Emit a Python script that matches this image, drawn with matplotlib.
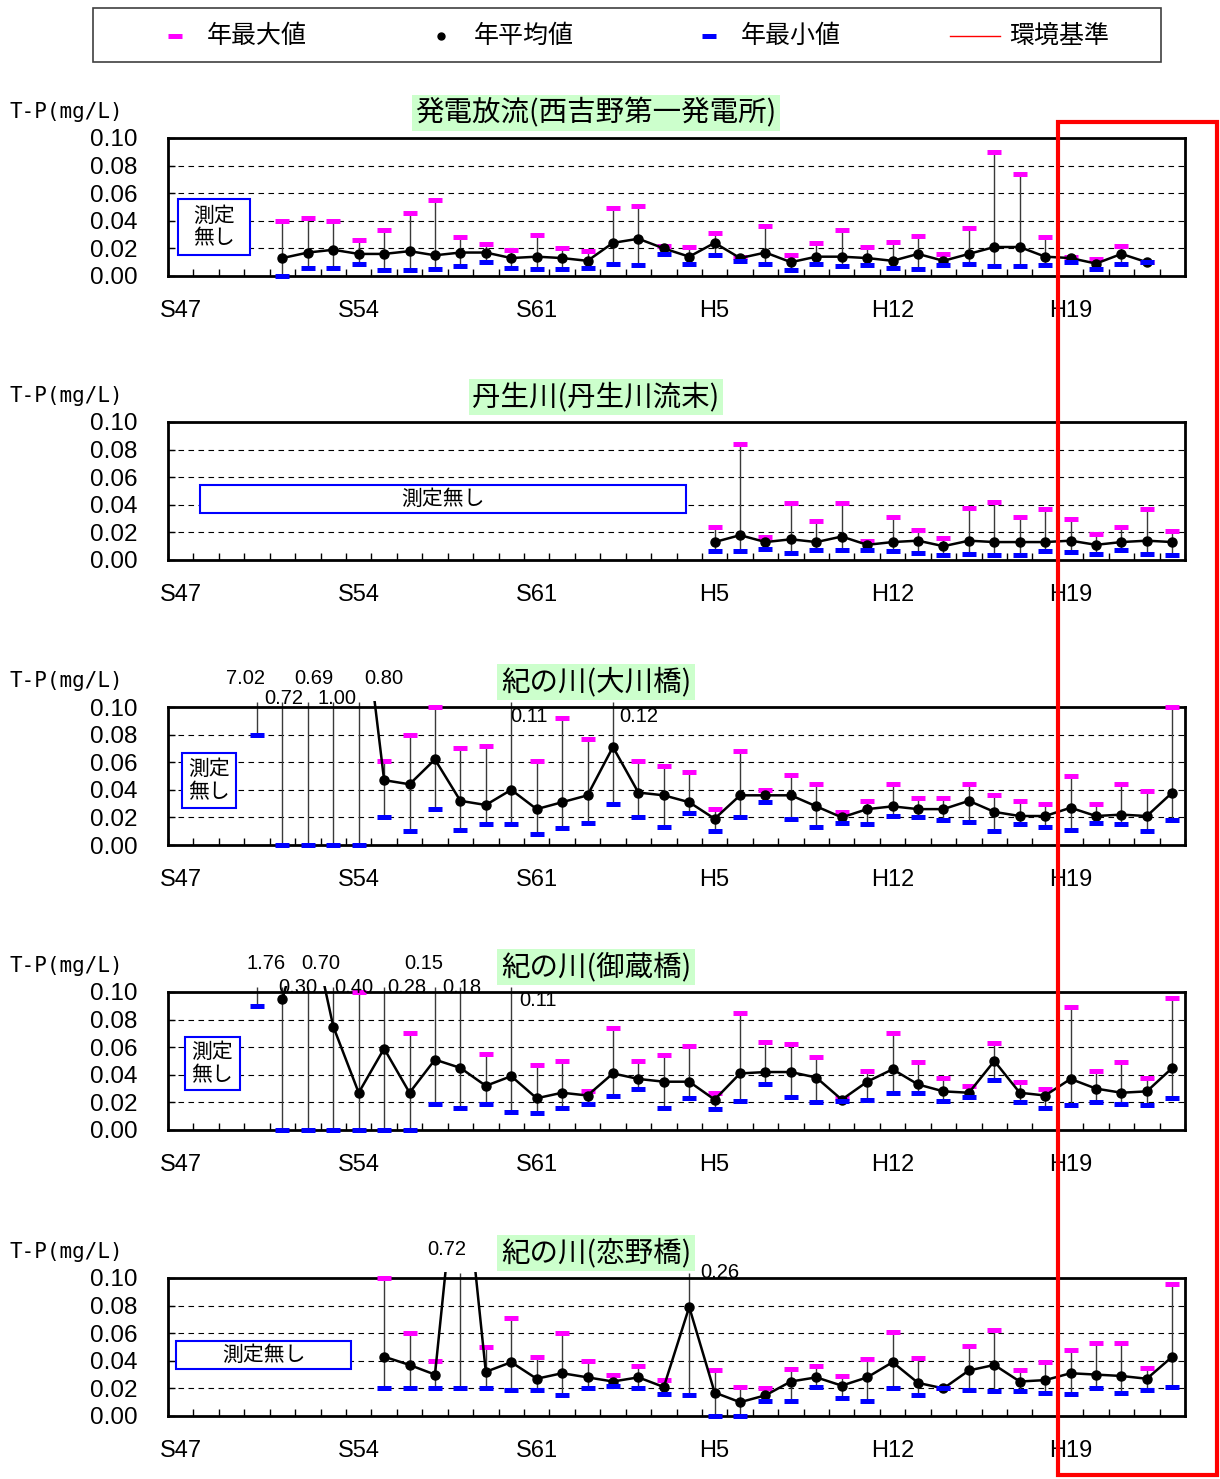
import numpy as np
import matplotlib
matplotlib.use('Agg')
import matplotlib.pyplot as plt
from matplotlib.patches import Rectangle
from matplotlib.lines import Line2D
from matplotlib.transforms import Bbox, TransformedBbox

plt.rcParams['font.family'] = ['Liberation Sans', 'Noto Sans CJK JP']

# ---------------- data ----------------
first_year = 1972
n_years = 40  # 1972 .. 2011
tick_years = [1972, 1979, 1986, 1993, 2000, 2007]
tick_labels = ['S47', 'S54', 'S61', 'H5', 'H12', 'H19']

legend_labels = ['年最大値', '年平均値', '年最小値', '環境基準']
no_data_text = '測定無し'

titles = ['発電放流(西吉野第一発電所)', '丹生川(丹生川流末)',
          '紀の川(大川橋)', '紀の川(御蔵橋)', '紀の川(恋野橋)']

# Panel 1: 発電放流 (1976-2010)
p1_start = 1976
p1_mean = [0.013, 0.017, 0.019, 0.016, 0.016, 0.018, 0.015, 0.017, 0.017, 0.013,
           0.014, 0.013, 0.011, 0.024, 0.027, 0.020, 0.014, 0.024, 0.013, 0.017,
           0.010, 0.014, 0.014, 0.013, 0.011, 0.016, 0.011, 0.016, 0.021, 0.021,
           0.014, 0.013, 0.009, 0.016, 0.010]
p1_max = [0.040, 0.042, 0.040, 0.026, 0.033, 0.046, 0.055, 0.028, 0.023, 0.019,
          0.030, 0.020, 0.018, 0.049, 0.051, 0.022, 0.021, 0.031, 0.014, 0.036,
          0.015, 0.024, 0.033, 0.021, 0.025, 0.029, 0.016, 0.035, 0.090, 0.074,
          0.028, 0.014, 0.012, 0.022, 0.010]
p1_min = [0.000, 0.006, 0.006, 0.009, 0.004, 0.004, 0.005, 0.007, 0.010, 0.006,
          0.005, 0.005, 0.006, 0.009, 0.008, 0.016, 0.009, 0.015, 0.011, 0.009,
          0.004, 0.009, 0.007, 0.008, 0.006, 0.005, 0.008, 0.009, 0.007, 0.007,
          0.008, 0.010, 0.005, 0.009, 0.010]

# Panel 2: 丹生川 (1993-2011)
p2_start = 1993
p2_mean = [0.013, 0.018, 0.013, 0.015, 0.013, 0.017, 0.011, 0.013, 0.014, 0.010,
           0.014, 0.013, 0.013, 0.013, 0.014, 0.011, 0.013, 0.014, 0.013]
p2_max = [0.024, 0.084, 0.017, 0.041, 0.028, 0.041, 0.014, 0.031, 0.022, 0.016,
          0.038, 0.042, 0.031, 0.037, 0.030, 0.019, 0.024, 0.037, 0.021]
p2_min = [0.0065, 0.0065, 0.008, 0.005, 0.007, 0.007, 0.007, 0.0065, 0.005, 0.0036,
          0.0046, 0.0036, 0.0036, 0.0065, 0.0056, 0.0046, 0.0075, 0.0046, 0.0036]

# Panel 3: 紀の川(大川橋) (1975-2011); nan = mean above chart, not readable
p3_start = 1975
p3_mean = [np.nan, np.nan, np.nan, np.nan, 0.20, 0.047, 0.044, 0.062, 0.032, 0.029,
           0.040, 0.026, 0.031, 0.036, 0.071, 0.038, 0.036, 0.031, 0.019, 0.036,
           0.036, 0.036, 0.028, 0.020, 0.026, 0.028, 0.026, 0.026, 0.032, 0.024,
           0.021, 0.021, 0.027, 0.021, 0.022, 0.021, 0.038]
p3_max = [7.02, 0.72, 0.69, 1.00, 0.80, 0.061, 0.080, 0.100, 0.070, 0.072,
          0.11, 0.061, 0.092, 0.077, 0.12, 0.061, 0.057, 0.053, 0.026, 0.068,
          0.040, 0.051, 0.044, 0.024, 0.032, 0.044, 0.034, 0.034, 0.044, 0.036,
          0.032, 0.030, 0.050, 0.030, 0.044, 0.039, 0.100]
p3_min = [0.080, 0.0, 0.0, 0.0, 0.0, 0.020, 0.010, 0.026, 0.011, 0.015,
          0.015, 0.008, 0.012, 0.016, 0.030, 0.020, 0.013, 0.023, 0.010, 0.020,
          0.031, 0.019, 0.013, 0.016, 0.015, 0.021, 0.020, 0.018, 0.017, 0.010,
          0.015, 0.013, 0.011, 0.016, 0.015, 0.010, 0.018]

# Panel 4: 紀の川(御蔵橋) (1975-2011)
p4_start = 1975
p4_mean = [np.nan, 0.095, 0.16, 0.075, 0.027, 0.059, 0.027, 0.051, 0.045, 0.032,
           0.039, 0.023, 0.027, 0.025, 0.041, 0.037, 0.035, 0.035, 0.022, 0.041,
           0.042, 0.042, 0.038, 0.022, 0.035, 0.044, 0.033, 0.028, 0.027, 0.050,
           0.027, 0.025, 0.037, 0.030, 0.027, 0.028, 0.045]
p4_max = [1.76, 0.30, 0.70, 0.40, 0.100, 0.28, 0.070, 0.15, 0.18, 0.055,
          0.11, 0.047, 0.050, 0.028, 0.074, 0.050, 0.054, 0.061, 0.027, 0.085,
          0.064, 0.062, 0.053, 0.023, 0.043, 0.070, 0.049, 0.038, 0.032, 0.063,
          0.035, 0.030, 0.089, 0.043, 0.049, 0.038, 0.096]
p4_min = [0.090, 0.0, 0.0, 0.0, 0.0, 0.0, 0.0, 0.019, 0.016, 0.019,
          0.013, 0.012, 0.016, 0.019, 0.025, 0.030, 0.016, 0.023, 0.015, 0.021,
          0.033, 0.024, 0.020, 0.021, 0.022, 0.027, 0.027, 0.021, 0.024, 0.036,
          0.020, 0.016, 0.018, 0.020, 0.019, 0.018, 0.023]

# Panel 5: 紀の川(恋野橋) (1980-2011)
p5_start = 1980
p5_mean = [0.043, 0.037, 0.030, 0.21, 0.032, 0.039, 0.027, 0.031, 0.028, 0.025,
           0.028, 0.021, 0.079, 0.017, 0.010, 0.015, 0.025, 0.028, 0.022, 0.028,
           0.039, 0.024, 0.020, 0.033, 0.037, 0.025, 0.026, 0.031, 0.030, 0.029,
           0.027, 0.043]
p5_max = [0.100, 0.060, 0.040, 0.72, 0.050, 0.071, 0.043, 0.060, 0.040, 0.030,
          0.036, 0.026, 0.26, 0.033, 0.021, 0.020, 0.034, 0.036, 0.029, 0.041,
          0.061, 0.042, 0.020, 0.051, 0.062, 0.033, 0.039, 0.048, 0.053, 0.053,
          0.035, 0.096]
p5_min = [0.020, 0.020, 0.020, 0.020, 0.020, 0.019, 0.019, 0.015, 0.020, 0.022,
          0.020, 0.016, 0.015, 0.000, 0.000, 0.011, 0.011, 0.021, 0.013, 0.011,
          0.020, 0.015, 0.020, 0.019, 0.018, 0.018, 0.017, 0.016, 0.020, 0.017,
          0.019, 0.021]

# off-scale value annotations: (year, text) ; placement offsets separate below
p3_notes = [(1975, '7.02'), (1976, '0.72'), (1977, '0.69'), (1978, '1.00'),
            (1979, '0.80'), (1985, '0.11'), (1989, '0.12')]
p4_notes = [(1975, '1.76'), (1976, '0.30'), (1977, '0.70'), (1978, '0.40'),
            (1982, '0.15'), (1980, '0.28'), (1983, '0.18'), (1985, '0.11')]
p5_notes = [(1983, '0.72'), (1992, '0.26')]

# ---------------- layout ----------------
W, H = 1220, 1479
fig = plt.figure(figsize=(W / 100, H / 100), dpi=100)
fig.patch.set_facecolor('white')

AX_L, AX_R = 168, 1185
tops = [138, 422, 707, 992, 1278]
AX_H = 138
YMAX = 0.10

MAG = '#FF00FF'
BLU = '#0000FF'

# note placements: (dx in categories, dy in data units above/below top)
p3_place = [(-0.45, 0.0203), (0.05, 0.0065), (0.25, 0.0203), (0.15, 0.0065),
            (1.0, 0.0203), (0.7, -0.0072), (1.0, -0.0072)]
p4_place = [(0.35, 0.021), (0.6, 0.0029), (0.5, 0.021), (0.8, 0.0029),
            (-0.45, 0.021), (0.9, 0.0029), (0.05, 0.0029), (1.05, -0.0065)]
p5_place = [(-0.55, 0.0203), (1.2, 0.0043)]

boxes = [  # (x0, y0, x1, y1) in axes fraction, two-line?
    (0.0098, 0.152, 0.0806, 0.558, True),
    (0.0315, 0.341, 0.509, 0.543, False),
    (0.0138, 0.268, 0.0669, 0.667, True),
    (0.0167, 0.290, 0.0708, 0.674, True),
    (0.0079, 0.341, 0.180, 0.543, False),
]

panels = [
    (p1_start, p1_mean, p1_max, p1_min, [], []),
    (p2_start, p2_mean, p2_max, p2_min, [], []),
    (p3_start, p3_mean, p3_max, p3_min, p3_notes, p3_place),
    (p4_start, p4_mean, p4_max, p4_min, p4_notes, p4_place),
    (p5_start, p5_mean, p5_max, p5_min, p5_notes, p5_place),
]

for i, (start, mean, vmax, vmin, notes, place) in enumerate(panels):
    top = tops[i]
    ax = fig.add_axes([AX_L / W, 1 - (top + AX_H) / H, (AX_R - AX_L) / W, AX_H / H])
    mean = np.asarray(mean, float)
    vmax = np.asarray(vmax, float)
    vmin = np.asarray(vmin, float)
    x = np.arange(len(mean)) + (start - first_year)

    ax.set_xlim(-0.5, n_years - 0.5)
    ax.set_ylim(0, YMAX)

    # gridlines
    ax.set_yticks(np.arange(0, 0.1001, 0.02))
    ax.yaxis.set_major_formatter(matplotlib.ticker.FormatStrFormatter('%.2f'))
    ax.grid(axis='y', color='black', ls=(0, (5, 4)), lw=0.8, zorder=0)
    ax.set_axisbelow(True)

    # vertical range lines
    ax.vlines(x, vmin, np.minimum(vmax, YMAX * 1.035), colors='#3a3a3a',
              lw=1.0, zorder=2, clip_on=False)
    mk = vmax <= YMAX + 1e-9
    ax.plot(x[mk], vmax[mk], ls='none', marker='_', ms=9.5, mew=3.6,
            color=MAG, zorder=3, clip_on=False)
    ln, = ax.plot(x, mean, color='black', lw=1.8, marker='o', ms=6.5,
                  zorder=4)
    ln.set_clip_box(TransformedBbox(Bbox([[0, -0.05], [1, 1.04]]), ax.transAxes))
    ax.plot(x, vmin, ls='none', marker='_', ms=9.5, mew=3.6,
            color=BLU, zorder=5, clip_on=False)

    # annotations for off-scale values
    for (yr, txt), (dx, dy) in zip(notes, place):
        ax.text(yr - first_year + dx, YMAX + dy, txt, fontsize=14.5,
                ha='center', va='center', clip_on=False, zorder=6)

    # spines & ticks
    for sp in ax.spines.values():
        sp.set_linewidth(2)
        sp.set_color('black')
    ax.set_xticks(np.arange(-0.5, n_years, 1.0))
    ax.set_xticklabels([])
    ax.tick_params(axis='x', which='major', direction='in', length=5, width=1,
                   top=False)
    ax.set_xticks([y - first_year for y in tick_years], minor=True)
    ax.set_xticklabels(tick_labels, minor=True)
    ax.tick_params(axis='x', which='minor', length=0, pad=17, labelsize=17)
    for lbl in ax.get_xticklabels(minor=True):
        lbl.set_fontfamily(['Liberation Sans Narrow', 'Liberation Sans'])
    ax.tick_params(axis='y', direction='in', length=5, width=1, pad=22,
                   labelsize=17.5)

    # y label
    ax.text((10 - AX_L) / (AX_R - AX_L), 1 + 26 / AX_H, 'T-P(mg/L)',
            transform=ax.transAxes, ha='left', va='center', fontsize=15,
            family=['DejaVu Sans Mono'])

    # title
    ax.text((596 - AX_L) / (AX_R - AX_L), 1 + 25 / AX_H, titles[i],
            transform=ax.transAxes, ha='center', va='center', fontsize=20.5,
            family=['Noto Sans CJK JP', 'DejaVu Sans'],
            bbox=dict(boxstyle='square,pad=0.12', fc='#CCFFCC', ec='none'))

    # 測定無し box
    x0, y0, x1, y1, two = boxes[i]
    ax.add_patch(Rectangle((x0, y0), x1 - x0, y1 - y0, transform=ax.transAxes,
                           fill=True, fc='white', ec=BLU, lw=1.5, zorder=6))
    txt = '測定\n無し' if two else no_data_text
    ax.text((x0 + x1) / 2, (y0 + y1) / 2, txt, transform=ax.transAxes,
            ha='center', va='center', fontsize=15, linespacing=1.05,
            family=['Noto Sans CJK JP', 'DejaVu Sans'], zorder=7)

# ---------------- legend ----------------
def fx(px):
    return px / W

def fy(py):
    return 1 - py / H

fig.add_artist(Rectangle((fx(93), fy(62)), fx(1161) - fx(93), fy(8) - fy(62),
                         transform=fig.transFigure, fill=False, ec='#404040', lw=1.2))
ly = fy(36)
fig.add_artist(Line2D([fx(175)], [ly], marker='_', ms=9.5, mew=3.6, color=MAG,
                      transform=fig.transFigure))
fig.add_artist(Line2D([fx(441)], [ly], marker='o', ms=5, color='black', ls='none',
                      transform=fig.transFigure))
fig.add_artist(Line2D([fx(709)], [ly], marker='_', ms=9.5, mew=3.6, color=BLU,
                      transform=fig.transFigure))
fig.add_artist(Line2D([fx(950), fx(1000)], [ly, ly], color='red', lw=1,
                      transform=fig.transFigure))
for px, lab in zip([207, 474, 741, 1009], legend_labels):
    fig.text(fx(px), ly, lab, ha='left', va='center', fontsize=18,
             family=['Noto Sans CJK JP', 'DejaVu Sans'])

# ---------------- red highlight frame ----------------
fig.add_artist(Rectangle((fx(1058), fy(1475)), fx(1217) - fx(1058), fy(122) - fy(1475),
                         transform=fig.transFigure, fill=False, ec='#FF0000', lw=3,
                         zorder=20))

fig.savefig('out.png', dpi=100)
